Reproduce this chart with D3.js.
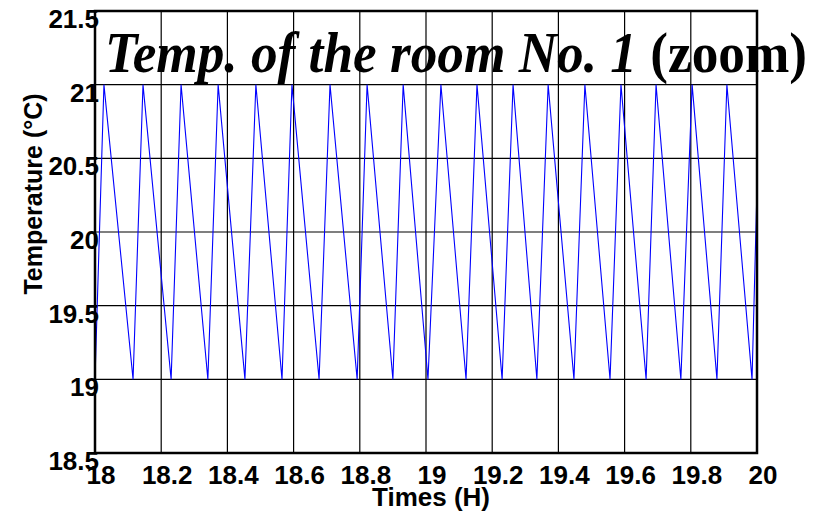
<!DOCTYPE html>
<html>
<head>
<meta charset="utf-8">
<script src="https://cdn.jsdelivr.net/npm/d3@7"></script>
<style>
  body { margin: 0; background: #fff; }
  svg { display: block; }
  .tick-label { font-family: "Liberation Sans", Arial, sans-serif; font-weight: bold; font-size: 26px; fill: #000; }
</style>
</head>
<body>
<svg width="824" height="513"></svg>
<script>
// x ticks (hours) and y ticks (deg C)
const xTicks = [18, 18.2, 18.4, 18.6, 18.8, 19, 19.2, 19.4, 19.6, 19.8, 20];
const yTicks = [18.5, 19, 19.5, 20, 20.5, 21, 21.5];

// turning points of the room temperature
const peakTimes = [18.027, 18.145, 18.260, 18.372, 18.486, 18.595, 18.710, 18.822, 18.931,
  19.045, 19.154, 19.263, 19.369, 19.480, 19.589, 19.695, 19.804, 19.909];
const troughTimes = [18.000, 18.115, 18.230, 18.341, 18.453, 18.565, 18.677, 18.792, 18.900,
  19.006, 19.121, 19.230, 19.335, 19.447, 19.556, 19.665, 19.770, 19.879, 19.985];
const peakTemp = 21;
const troughTemp = 19;
const endPoint = { t: 20, v: 20.3 };

// build the series: trough, peak, trough, ... then the last point
const series = [];
troughTimes.forEach((t, i) => {
  series.push({ t: t, v: troughTemp });
  if (i < peakTimes.length) series.push({ t: peakTimes[i], v: peakTemp });
});
series.push(endPoint);

const svg = d3.select('svg');

const plotLeft = 95, plotRight = 757, plotTop = 11, plotBottom = 453;

const scaleX = d3.scaleLinear()
  .domain([18, 20])
  .range([plotLeft, plotRight]);

const scaleY = d3.scaleLinear()
  .domain([18.5, 21.5])
  .range([plotBottom, plotTop]);

// grid lines
const grid = svg.append('g').attr('class', 'grid');
grid.selectAll('line.gx')
  .data(xTicks)
  .enter()
  .append('line')
  .attr('x1', d => scaleX(d)).attr('x2', d => scaleX(d))
  .attr('y1', plotTop).attr('y2', plotBottom)
  .attr('stroke', '#000').attr('stroke-width', 1.2);
grid.selectAll('line.gy')
  .data(yTicks)
  .enter()
  .append('line')
  .attr('x1', plotLeft).attr('x2', plotRight)
  .attr('y1', d => scaleY(d)).attr('y2', d => scaleY(d))
  .attr('stroke', '#000').attr('stroke-width', 1.2);

// temperature line
const line = d3.line()
  .x(d => scaleX(d.t))
  .y(d => scaleY(d.v));

svg.append('path')
  .datum(series)
  .attr('d', line)
  .attr('fill', 'none')
  .attr('stroke', '#0000ff')
  .attr('stroke-width', 1.1);

// box
svg.append('rect')
  .attr('x', plotLeft).attr('y', plotTop)
  .attr('width', plotRight - plotLeft).attr('height', plotBottom - plotTop)
  .attr('fill', 'none')
  .attr('stroke', '#000')
  .attr('stroke-width', 2.5);

// tick labels
const fmt = d3.format('~g');
svg.selectAll('text.ylab')
  .data(yTicks)
  .enter()
  .append('text')
  .attr('class', 'tick-label')
  .attr('text-anchor', 'end')
  .attr('x', plotLeft + 4)
  .attr('y', d => scaleY(d) + 17)
  .text(d => fmt(d));

svg.selectAll('text.xlab')
  .data(xTicks)
  .enter()
  .append('text')
  .attr('class', 'tick-label')
  .attr('text-anchor', 'middle')
  .attr('x', d => scaleX(d) + 6)
  .attr('y', 484)
  .text(d => fmt(d));

// axis titles
svg.append('text')
  .attr('class', 'tick-label')
  .attr('text-anchor', 'middle')
  .attr('transform', 'translate(42, 194) rotate(-90)')
  .style('font-size', '25px')
  .text('Temperature (°C)');

svg.append('text')
  .attr('class', 'tick-label')
  .attr('text-anchor', 'middle')
  .attr('x', 431)
  .attr('y', 506)
  .style('font-size', '26px')
  .text('Times (H)');

// title drawn over the plot
const title = svg.append('text')
  .attr('x', 105)
  .attr('y', 72)
  .attr('textLength', 702)
  .attr('lengthAdjust', 'spacingAndGlyphs')
  .style('font-family', '"Liberation Serif", "Times New Roman", serif')
  .style('font-weight', 'bold')
  .style('font-size', '56px');
title.append('tspan').style('font-style', 'italic').text('Temp. of the room No. 1 ');
title.append('tspan').text('(zoom)');
</script>
</body>
</html>
